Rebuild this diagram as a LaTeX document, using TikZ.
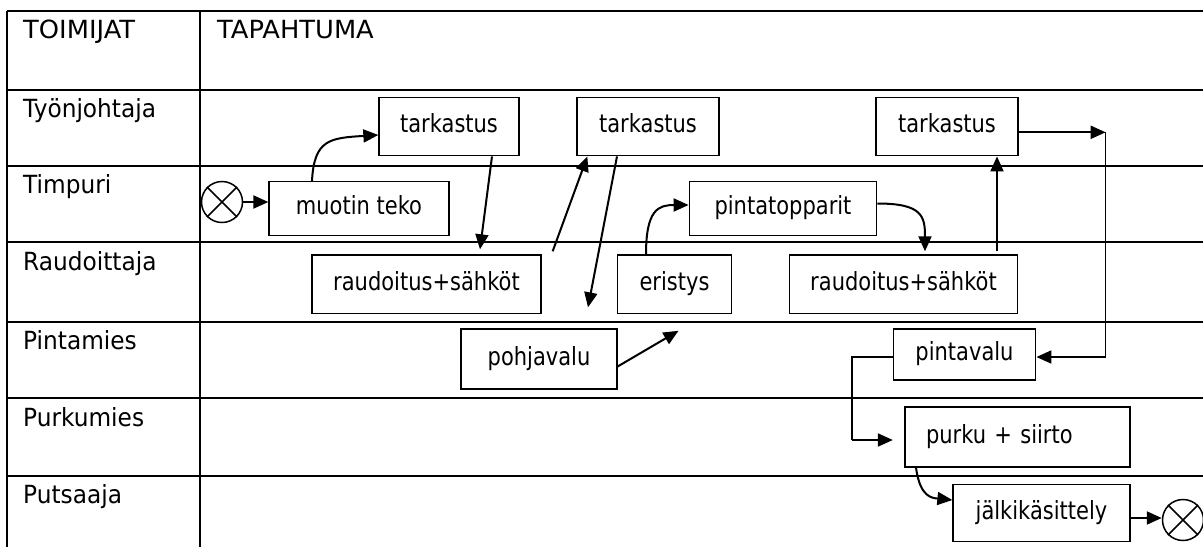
\documentclass[tikz,border=0pt]{standalone}
\usepackage{fontspec}
\setmainfont{DejaVu Sans}[FakeStretch=0.84]
\newfontfamily\lanefont{DejaVu Sans}[FakeStretch=0.93]
\newfontfamily\capfont{DejaVu Sans}[FakeStretch=1.03]
\usetikzlibrary{arrows.meta}

\begin{document}
\begin{tikzpicture}[x=1pt,y=-1pt,
  gridline/.style={line width=2pt},
  task/.style={draw, line width=1.3pt, inner sep=0pt, text height=17pt, text depth=5pt,
    font=\fontsize{25}{29}\selectfont},
  flow/.style={line width=2pt, -{Triangle[length=15pt,width=13pt]}},
  thinline/.style={line width=1.3pt},
  lane/.style={anchor=base west, inner sep=0pt, font=\lanefont\fontsize{25}{29}\selectfont},
  head/.style={anchor=base west, inner sep=0pt, font=\capfont\fontsize{25}{29}\selectfont},
  terminal/.style={draw, circle, line width=1.5pt, minimum size=41pt, inner sep=0pt}
]
\useasboundingbox (0,0) rectangle (1203,547);

% swimlane grid
\foreach \y in {10.5,89.5,165.7,242.3,321.7,398.3,475.7}
  \draw[gridline] (7,\y) -- (1203,\y);
\draw[gridline] (7,10.5) -- (7,547);
\draw[gridline] (200,10.5) -- (200,547);

% column and lane headings
\node[head] (hActors) at (23,38.3) {TOIMIJAT};
\node[head] (hEvent) at (217,38.3) {TAPAHTUMA};
\node[lane] (l1) at (23,117.3) {Työnjohtaja};
\node[lane] (l2) at (23,193.5) {Timpuri};
\node[lane] (l3) at (23,270.1) {Raudoittaja};
\node[lane] (l4) at (23,349.5) {Pintamies};
\node[lane] (l5) at (23,426) {Purkumies};
\node[lane] (l6) at (23,503.5) {Putsaaja};

% tasks
\node[task, minimum width=180pt, minimum height=53.5pt] (A) at (359,208.5) {muotin teko};
\node[task, minimum width=140pt, minimum height=58.5pt] (B) at (449,126.5) {tarkastus};
\node[task, minimum width=142pt, minimum height=58.5pt] (C) at (648,126.5) {tarkastus};
\node[task, minimum width=142pt, minimum height=58.5pt] (D) at (947,126.5) {tarkastus};
\node[task, minimum width=229pt, minimum height=58.5pt] (E) at (426.5,284.2) {raudoitus+sähköt};
\node[task, minimum width=114.5pt, minimum height=58.5pt] (F) at (674.5,284.2) {eristys};
\node[task, minimum width=187.5pt, minimum height=53.5pt] (G) at (783,208.5) {pintatopparit};
\node[task, minimum width=228.5pt, minimum height=58.5pt] (H) at (903.5,284.2) {raudoitus+sähköt};
\node[task, minimum width=156pt, minimum height=60pt] (I) at (539,359) {pohjavalu};
\node[task, minimum width=142.5pt, minimum height=51pt] (J) at (964.5,354.5) {pintavalu};
\node[task, minimum width=225pt, minimum height=60pt, inner xsep=21pt, text width=183pt, align=left]
  (K) at (1017.5,437) {purku + siirto};
\node[task, minimum width=177pt, minimum height=57pt] (L) at (1041.5,513) {jälkikäsittely};

% start and end markers
\node[terminal] (start) at (222,202) {};
\draw[line width=1.5pt] (start.north west) -- (start.south east) (start.north east) -- (start.south west);
\node[terminal] (finish) at (1183,520) {};
\draw[line width=1.5pt] (finish.north west) -- (finish.south east) (finish.north east) -- (finish.south west);

% flow
\draw[flow] (start.east) -- (start.east -| A.west);
\draw[flow] ([xshift=-47pt]A.north) .. controls +(2,-42) and +(-48,3) .. ([yshift=-8.5pt]B.west);
\draw[flow] ([xshift=43pt]B.south) -- ([xshift=53.5pt,yshift=5pt]E.north);
\draw[flow] ([xshift=11pt,yshift=3pt]E.north east) -- ([xshift=11pt]C.south west);
\draw[flow] ([xshift=-31pt]C.south) -- ([xshift=49pt,yshift=21pt]I.north);
\draw[flow] ([yshift=-7.5pt]I.east) -- ([xshift=4pt,yshift=-16.7pt]F.south);
\draw[flow] ([xshift=-28.5pt]F.north) .. controls +(0,-45) and +(-30,0) .. ([yshift=3.5pt]G.west);
\draw[flow] ([yshift=5pt]G.east) .. controls +(45,0) and +(0,-35) .. ([xshift=21.5pt,yshift=3pt]H.north);
\draw[flow] ([xshift=93.5pt,yshift=3pt]H.north) -- ([xshift=50pt]D.south);

% check passed on to the surface pour
\coordinate (dout) at ([yshift=-5.8pt]D.east);
\coordinate (turn) at ([xshift=87pt]dout);
\coordinate (jin) at ([yshift=-2.5pt]J.east);
\coordinate (drop) at (turn |- jin);
\draw[flow] (dout) -- (turn);
\draw[thinline] (turn) -- (drop);
\draw[flow] (drop) -- (jin);

% surface pour to stripping
\coordinate (jout) at ([yshift=-2.5pt]J.west);
\coordinate (bend) at ([xshift=-40.5pt]jout);
\coordinate (kin) at ([xshift=-11.5pt,yshift=-3pt]K.west);
\coordinate (corner) at (bend |- kin);
\draw[thinline] (jout) -- (bend) -- (corner);
\draw[flow] (corner) -- (kin);

% stripping to finishing and end
\draw[flow] ([xshift=-101.5pt]K.south) .. controls +(4,30) and +(-20,-2) .. ([yshift=13pt]L.west);
\coordinate (lout) at ([yshift=-5pt]L.east);
\draw[flow] (lout) -- (lout -| finish.west);
\end{tikzpicture}
\end{document}
